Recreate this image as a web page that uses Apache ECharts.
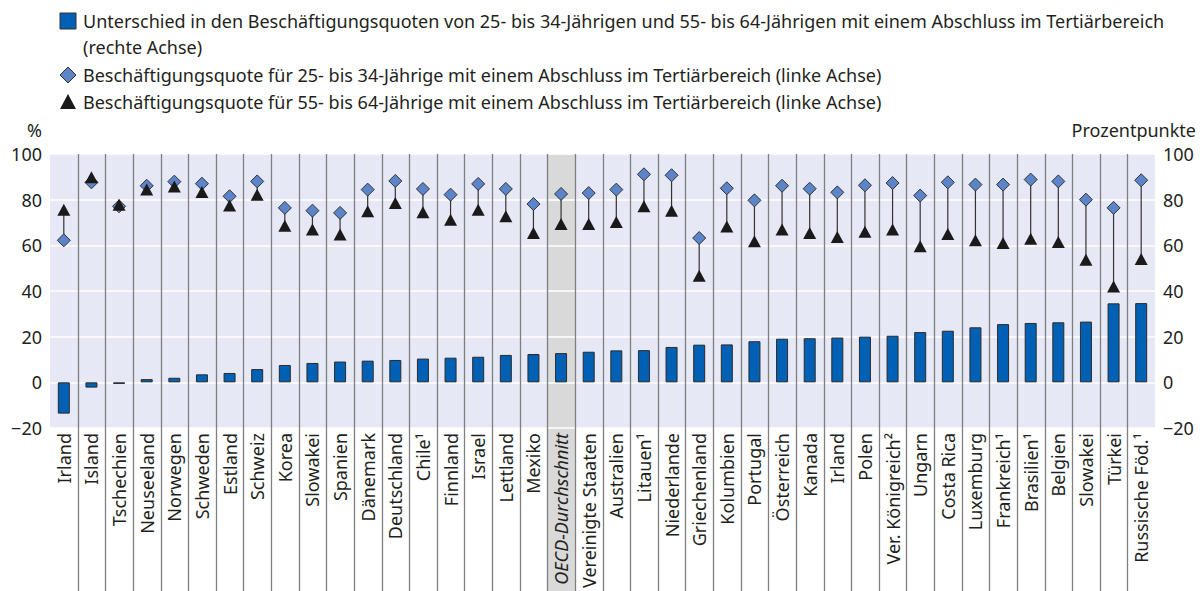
<!DOCTYPE html>
<html>
<head>
<meta charset="utf-8">
<script src="https://cdn.jsdelivr.net/npm/echarts@6/dist/echarts.min.js"></script>
<style>
  html, body { margin: 0; padding: 0; background: #fff; }
  #chart { width: 1204px; height: 591px; }
</style>
</head>
<body>
<div id="chart"></div>
<script>
// Kategorien (Länder), sortiert nach Unterschied
const categories = [
  'Irland', 'Island', 'Tschechien', 'Neuseeland', 'Norwegen', 'Schweden', 'Estland', 'Schweiz',
  'Korea', 'Slowakei', 'Spanien', 'Dänemark', 'Deutschland', 'Chile¹', 'Finnland', 'Israel',
  'Lettland', 'Mexiko', 'OECD-Durchschnitt', 'Vereinigte Staaten', 'Australien', 'Litauen¹',
  'Niederlande', 'Griechenland', 'Kolumbien', 'Portugal', 'Österreich', 'Kanada', 'Irland',
  'Polen', 'Ver. Königreich²', 'Ungarn', 'Costa Rica', 'Luxemburg', 'Frankreich¹', 'Brasilien¹',
  'Belgien', 'Slowakei', 'Türkei', 'Russische Föd.¹'
];

// Unterschied in Prozentpunkten (rechte Achse)
const diffValues = [
  -13.7, -2.3, -0.7, 1.4, 2.0, 3.5, 4.1, 5.8, 7.6, 8.5, 9.1, 9.5, 9.8, 10.4, 10.8, 11.2,
  12.0, 12.4, 12.8, 13.4, 14.0, 14.1, 15.5, 16.5, 16.6, 18.0, 19.1, 19.3, 19.6, 20.0, 20.4,
  22.0, 22.6, 24.1, 25.5, 26.0, 26.3, 26.6, 34.6, 34.7
];

// Beschäftigungsquote 25- bis 34-Jährige (linke Achse)
const youngRate = [
  62.2, 87.6, 77.1, 86.1, 87.9, 87.0, 81.5, 88.0, 76.4, 75.2, 74.2, 84.4, 88.2, 84.7, 82.2, 86.9,
  84.7, 78.1, 82.5, 82.9, 84.4, 91.1, 90.7, 63.2, 85.0, 79.7, 86.1, 84.8, 83.2, 86.3, 87.3,
  81.8, 87.6, 86.6, 86.6, 88.8, 88.0, 80.0, 76.4, 88.5
];

// Beschäftigungsquote 55- bis 64-Jährige (linke Achse)
const oldRate = [
  75.6, 89.8, 77.8, 84.4, 85.8, 83.4, 77.4, 82.2, 68.6, 66.9, 64.7, 74.9, 78.5, 74.5, 71.2, 75.6,
  72.7, 65.4, 69.3, 69.3, 70.2, 77.1, 75.2, 46.7, 68.3, 61.8, 66.9, 65.4, 63.6, 66.0, 66.9,
  59.6, 65.0, 62.2, 61.0, 62.9, 61.5, 53.7, 42.0, 54.0
];

const yTicks = { min: -20, max: 100, interval: 20 };

const legendLabels = [
  'Unterschied in den Beschäftigungsquoten von 25- bis 34-Jährigen und 55- bis 64-Jährigen mit einem Abschluss im Tertiärbereich',
  '(rechte Achse)',
  'Beschäftigungsquote für 25- bis 34-Jährige mit einem Abschluss im Tertiärbereich (linke Achse)',
  'Beschäftigungsquote für 55- bis 64-Jährige mit einem Abschluss im Tertiärbereich (linke Achse)'
];

const FONT = '"Noto Sans", "Liberation Sans", sans-serif';
const FS = 18;
const TXT = '#231f20';
const BAR_COLOR = '#0060b4';
const DIAMOND_COLOR = '#5b84c9';
const TRI_COLOR = '#1a1a1a';
const oecdIndex = categories.indexOf('OECD-Durchschnitt');

const chart = echarts.init(document.getElementById('chart'), null, { renderer: 'svg' });

const option = {
  animation: false,
  textStyle: { fontFamily: FONT },
  grid: {
    left: 50, right: 49, top: 154, bottom: 163,
    show: true, backgroundColor: '#e6e8f5', borderWidth: 0
  },
  graphic: [
    { type: 'rect', shape: { x: 60, y: 13, width: 16, height: 16 },
      style: { fill: BAR_COLOR, stroke: '#333', lineWidth: 1 } },
    { type: 'text', x: 83, y: 21,
      style: { text: legendLabels[0], font: FS + 'px ' + FONT, fill: TXT, verticalAlign: 'middle' } },
    { type: 'text', x: 83, y: 47,
      style: { text: legendLabels[1], font: FS + 'px ' + FONT, fill: TXT, verticalAlign: 'middle' } },
    { type: 'polygon', shape: { points: [[68, 67], [76, 75], [68, 83], [60, 75]] },
      style: { fill: DIAMOND_COLOR, stroke: '#333', lineWidth: 1 } },
    { type: 'text', x: 83, y: 75,
      style: { text: legendLabels[2], font: FS + 'px ' + FONT, fill: TXT, verticalAlign: 'middle' } },
    { type: 'polygon', shape: { points: [[68, 94], [76, 109], [60, 109]] },
      style: { fill: TRI_COLOR } },
    { type: 'text', x: 83, y: 102,
      style: { text: legendLabels[3], font: FS + 'px ' + FONT, fill: TXT, verticalAlign: 'middle' } },
    { type: 'text', x: 42, y: 130,
      style: { text: '%', font: FS + 'px ' + FONT, fill: TXT, align: 'right', verticalAlign: 'middle' } },
    { type: 'text', x: 1196, y: 130,
      style: { text: 'Prozentpunkte', font: FS + 'px ' + FONT, fill: TXT, align: 'right', verticalAlign: 'middle' } }
  ],
  xAxis: {
    type: 'category',
    data: categories,
    z: 3,
    axisLine: { show: false },
    axisTick: { show: false },
    splitLine: { show: false },
    axisLabel: {
      interval: 0,
      rotate: 90,
      margin: 5,
      fontSize: FS,
      color: TXT,
      fontFamily: FONT,
      formatter: v => v === 'OECD-Durchschnitt' ? '{it|' + v + '}' : v,
      rich: { it: { fontStyle: 'italic', fontSize: FS, color: TXT, fontFamily: FONT } }
    }
  },
  yAxis: [
    {
      type: 'value', min: yTicks.min, max: yTicks.max, interval: yTicks.interval,
      z: 2,
      axisLine: { show: false }, axisTick: { show: false },
      axisLabel: { fontSize: FS, color: TXT, margin: 8,
        formatter: v => v < 0 ? '−' + Math.abs(v) : v },
      splitLine: { lineStyle: { color: '#ffffff', width: 1.5 } }
    },
    {
      type: 'value', min: yTicks.min, max: yTicks.max, interval: yTicks.interval,
      position: 'right',
      axisLine: { show: false }, axisTick: { show: false },
      axisLabel: { fontSize: FS, color: TXT, margin: 8,
        formatter: v => v < 0 ? '−' + Math.abs(v) : v },
      splitLine: { show: false }
    }
  ],
  series: [
    {
      // grau hinterlegter OECD-Durchschnitt
      type: 'custom',
      z: 1,
      clip: false,
      silent: true,
      data: [[oecdIndex]],
      encode: { x: 0 },
      renderItem: (params, api) => {
        const c = api.coord([api.value(0), yTicks.max]);
        const w = api.size([1, 0])[0];
        return {
          type: 'rect',
          shape: { x: c[0] - w / 2, y: c[1], width: w, height: api.getHeight() - c[1] },
          style: { fill: '#d9d9d9' }
        };
      }
    },
    {
      // Trennlinien zwischen den Ländern
      type: 'custom',
      z: 3,
      clip: false,
      silent: true,
      data: categories.slice(1).map((c, i) => [i + 1]),
      encode: { x: 0 },
      renderItem: (params, api) => {
        const c = api.coord([api.value(0), yTicks.max]);
        const w = api.size([1, 0])[0];
        const x = Math.round(c[0] - w / 2) + 0.5;
        return {
          type: 'line',
          shape: { x1: x, y1: c[1], x2: x, y2: api.getHeight() },
          style: { stroke: '#7f7f7f', lineWidth: 1.3 }
        };
      }
    },
    {
      name: 'Unterschied',
      type: 'bar',
      yAxisIndex: 1,
      z: 4,
      barWidth: 12,
      data: diffValues,
      itemStyle: { color: BAR_COLOR, borderColor: '#2b2b2b', borderWidth: 1 }
    },
    {
      // Verbindungslinie zwischen beiden Altersgruppen
      type: 'custom',
      z: 5,
      silent: true,
      data: youngRate.map((v, i) => [i, v, oldRate[i]]),
      encode: { x: 0, y: [1, 2] },
      renderItem: (params, api) => {
        const a = api.coord([api.value(0), api.value(1)]);
        const b = api.coord([api.value(0), api.value(2)]);
        return {
          type: 'line',
          shape: { x1: a[0], y1: a[1], x2: b[0], y2: b[1] },
          style: { stroke: '#333', lineWidth: 1.2 }
        };
      }
    },
    {
      name: '25-34',
      type: 'scatter',
      z: 6,
      symbol: 'diamond',
      symbolSize: 13,
      data: youngRate,
      itemStyle: { color: DIAMOND_COLOR, borderColor: '#333', borderWidth: 1, opacity: 1 }
    },
    {
      name: '55-64',
      type: 'scatter',
      z: 7,
      symbol: 'triangle',
      symbolSize: [13, 12],
      data: oldRate,
      itemStyle: { color: TRI_COLOR, opacity: 1 }
    }
  ]
};

chart.setOption(option);
</script>
</body>
</html>
